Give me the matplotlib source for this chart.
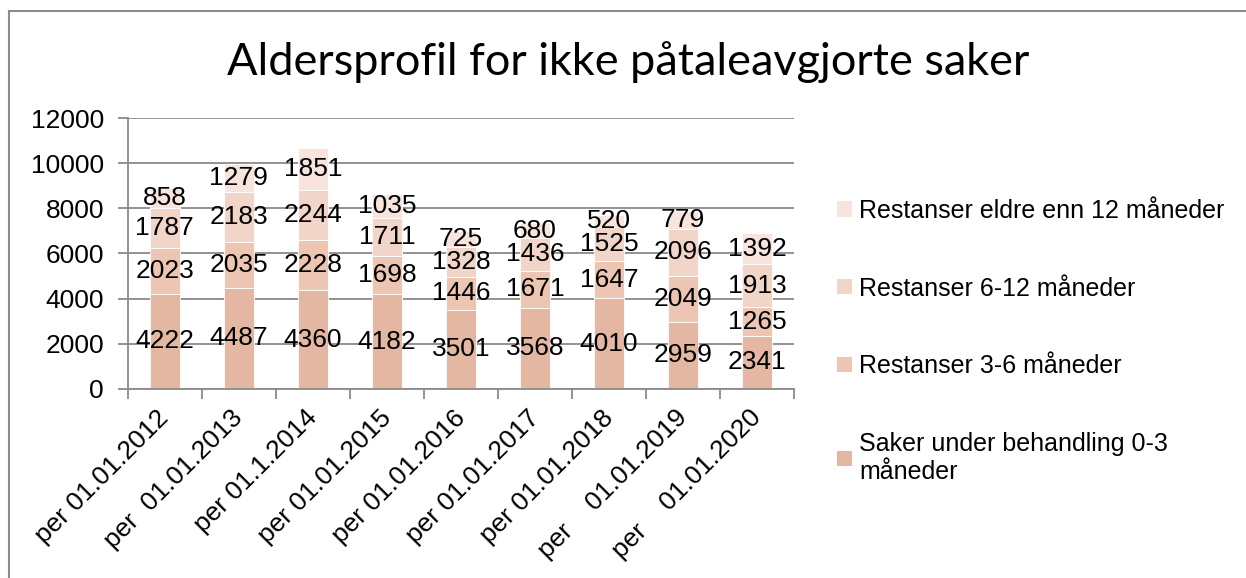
import matplotlib.pyplot as plt
import numpy as np
from matplotlib.patches import Patch, Rectangle
from matplotlib.transforms import ScaledTranslation

# Values
categories = [
    "per 01.01.2012",
    "per  01.01.2013",
    "per 01.1.2014",
    "per 01.01.2015",
    "per 01.01.2016",
    "per 01.01.2017",
    "per 01.01.2018",
    "per    01.01.2019",
    "per    01.01.2020",
]
saker_0_3 = [4222, 4487, 4360, 4182, 3501, 3568, 4010, 2959, 2341]
rest_3_6 = [2023, 2035, 2228, 1698, 1446, 1671, 1647, 2049, 1265]
rest_6_12 = [1787, 2183, 2244, 1711, 1328, 1436, 1525, 2096, 1913]
rest_12 = [858, 1279, 1851, 1035, 725, 680, 520, 779, 1392]

series = [saker_0_3, rest_3_6, rest_6_12, rest_12]
labels = [
    "Saker under behandling 0-3\nmåneder",
    "Restanser 3-6 måneder",
    "Restanser 6-12 måneder",
    "Restanser eldre enn 12 måneder",
]
colors = ["#E3B7A1", "#EDC6B3", "#F2D5C9", "#F7E4DD"]

plt.rcParams["font.family"] = ["Liberation Sans", "DejaVu Sans"]

fig = plt.figure(figsize=(12.46, 5.78), dpi=100)
ax = fig.add_axes([0.1025, 0.3275, 0.5348, 0.468])

# chart border
fig.patches.append(Rectangle((9 / 1246, -0.1), 1.2, (578 - 11) / 578 + 0.1,
                             transform=fig.transFigure, fill=False,
                             edgecolor="#8c8c8c", linewidth=1.5))

x = np.arange(len(categories))
bottom = np.zeros(len(categories))
for vals, col in zip(series, colors):
    ax.bar(x, vals, width=0.4, bottom=bottom, color=col,
           edgecolor="white", linewidth=0.6, zorder=2)
    for xi, b, v in zip(x, bottom, vals):
        ax.text(xi, b + v / 2, str(v), ha="center", va="center",
                fontsize=19, color="black", zorder=3)
    bottom += np.array(vals)

ax.set_xlim(-0.5, len(categories) - 0.5)
ax.set_ylim(0, 12000)
ax.set_yticks(range(0, 12001, 2000))
ax.yaxis.grid(True, color="#8a8a8a", linewidth=1.3, zorder=0)
ax.set_axisbelow(True)
for s in ["top", "right"]:
    ax.spines[s].set_visible(False)
for s in ["left", "bottom"]:
    ax.spines[s].set_color("#8a8a8a")
    ax.spines[s].set_linewidth(1.3)

ax.tick_params(axis="y", length=7, width=1.3, color="#8a8a8a",
               labelsize=19, pad=10)
ax.set_xticks(x)
ax.set_xticklabels(categories, rotation=45, ha="right",
                   rotation_mode="anchor", fontsize=19)
ax.tick_params(axis="x", which="major", length=0, pad=12)
shift = ScaledTranslation(-0.08, 0.0, fig.dpi_scale_trans)
for lbl in ax.get_xticklabels():
    lbl.set_transform(lbl.get_transform() + shift)
ax.set_xticks(np.arange(-0.5, len(categories)), minor=True)
ax.tick_params(axis="x", which="minor", length=7, width=1.3, color="#8a8a8a")

fig.suptitle("Aldersprofil for ikke påtaleavgjorte saker", x=0.504, y=0.893,
             fontsize=32.5, family=["Lato", "DejaVu Sans"], va="center")

handles = [Patch(facecolor=c, label=l) for c, l in zip(colors, labels)]
fig.legend(handles[::-1], labels[::-1], loc="upper left",
           bbox_to_anchor=(0.654, 0.695), frameon=False,
           handlelength=0.58, handleheight=0.58,
           handletextpad=0.3, labelspacing=2.15,
           prop={"family": ["Liberation Sans", "DejaVu Sans"], "size": 18})

fig.savefig("out.png", dpi=100)
